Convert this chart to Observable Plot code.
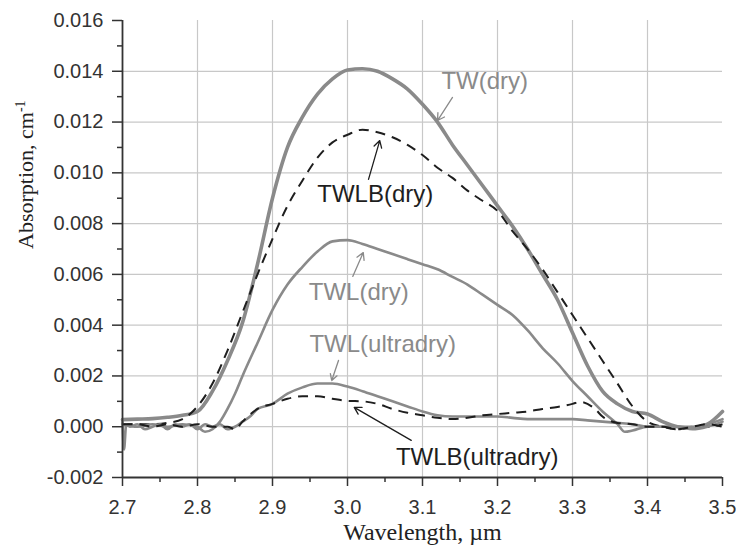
<!DOCTYPE html>
<html><head><meta charset="utf-8">
<script src="https://cdn.jsdelivr.net/npm/d3@7"></script>
<script src="https://cdn.jsdelivr.net/npm/@observablehq/plot@0.6"></script>
<style>body{margin:0;background:#fff}#chart{width:736px;height:550px}</style>
</head><body><div id="chart"></div>
<script>
// ---- data (wavelength in µm, absorption in cm^-1) ----
const twWl  = [2.70,2.72,2.74,2.76,2.78,2.80,2.82,2.84,2.86,2.88,2.90,2.92,2.94,2.96,2.98,3.00,3.02,3.04,3.06,3.08,3.10,3.12,3.14,3.16,3.18,3.20,3.22,3.24,3.26,3.28,3.30,3.32,3.34,3.36,3.38,3.40,3.42,3.44,3.46,3.48,3.50];
const twAbs = [0.00028,0.0003,0.00032,0.00037,0.00045,0.0006,0.0014,0.0026,0.0041,0.0064,0.0090,0.0110,0.0122,0.0131,0.0137,0.01405,0.0141,0.0140,0.0137,0.0133,0.0127,0.0120,0.0111,0.0103,0.0095,0.0087,0.0079,0.0070,0.0060,0.0050,0.0037,0.0024,0.0014,0.0009,0.0006,0.0005,0.0002,0.0,-0.00005,0.0001,0.0006];

const twlbDryWl  = [2.70,2.72,2.74,2.76,2.78,2.80,2.82,2.84,2.86,2.88,2.90,2.92,2.94,2.96,2.98,3.00,3.02,3.04,3.06,3.08,3.10,3.12,3.14,3.16,3.18,3.20,3.22,3.24,3.26,3.28,3.30,3.32,3.34,3.36,3.38,3.40,3.42,3.44,3.46,3.48,3.50];
const twlbDryAbs = [0.0001,0.0001,0.0001,0.00015,0.0003,0.0008,0.0017,0.0030,0.0045,0.0060,0.0074,0.0087,0.0097,0.0106,0.0112,0.0115,0.0117,0.0116,0.0114,0.0111,0.0107,0.0102,0.0098,0.0093,0.0089,0.0085,0.0077,0.0070,0.0062,0.0053,0.0044,0.0035,0.0026,0.0017,0.0008,0.0002,0.0,-0.0001,0.0,0.0,0.0001];

const twlDryWl  = [2.70,2.72,2.74,2.76,2.78,2.80,2.81,2.82,2.83,2.84,2.85,2.86,2.88,2.90,2.92,2.94,2.96,2.98,3.00,3.02,3.04,3.06,3.08,3.10,3.12,3.14,3.16,3.18,3.20,3.22,3.24,3.26,3.28,3.30,3.32,3.34,3.36,3.37,3.38,3.40,3.42,3.44,3.46,3.48,3.50];
const twlDryAbs = [0.0001,0.0,0.0001,0.0,0.0001,0.0,-0.0002,-0.0001,0.0002,0.0007,0.0013,0.0020,0.0033,0.0046,0.0056,0.0063,0.0069,0.0073,0.00735,0.0072,0.0070,0.0068,0.0066,0.0064,0.0062,0.0059,0.0056,0.0052,0.0048,0.0044,0.0038,0.0031,0.0025,0.0018,0.0012,0.0006,0.0001,-0.0002,-0.00015,0.0,0.0,0.0,-0.0001,0.0,0.0002];

const twlUltraWl  = [2.700,2.702,2.705,2.71,2.72,2.73,2.74,2.75,2.76,2.77,2.78,2.79,2.80,2.81,2.82,2.83,2.84,2.85,2.86,2.87,2.88,2.90,2.92,2.94,2.96,2.98,3.00,3.02,3.04,3.06,3.08,3.10,3.12,3.14,3.16,3.18,3.20,3.22,3.24,3.26,3.28,3.30,3.32,3.34,3.36,3.38,3.40,3.42,3.44,3.46,3.48,3.50];
const twlUltraAbs = [0.0002,-0.0009,0.0001,0.0,0.0001,-0.0001,0.0,0.0001,-0.0001,0.0001,0.0,0.0001,-0.0001,0.0001,0.0,0.0001,-0.0001,0.0,0.0002,0.0004,0.0007,0.0009,0.0013,0.00155,0.0017,0.0017,0.00158,0.0014,0.0012,0.0010,0.0008,0.0006,0.00045,0.0004,0.0004,0.0004,0.0004,0.00035,0.0003,0.0003,0.0003,0.0003,0.00025,0.0002,0.00015,0.0001,0.0,0.0,0.0,0.0,0.0001,0.0003];

const twlbUltraWl  = [2.70,2.72,2.74,2.76,2.78,2.80,2.82,2.84,2.85,2.86,2.88,2.90,2.92,2.94,2.96,2.98,3.00,3.02,3.04,3.06,3.08,3.10,3.12,3.14,3.16,3.18,3.20,3.22,3.24,3.26,3.28,3.30,3.31,3.33,3.34,3.36,3.38,3.40,3.42,3.44,3.46,3.48,3.50];
const twlbUltraAbs = [0.0001,0.0001,0.0,0.0001,0.0,0.0001,0.0,0.0,-0.0001,0.0002,0.0007,0.0009,0.0011,0.0012,0.0012,0.0011,0.00102,0.0010,0.0009,0.0007,0.00055,0.00045,0.00035,0.0003,0.00035,0.00045,0.0005,0.00055,0.0006,0.0007,0.00078,0.0009,0.00098,0.0007,0.0004,0.00015,0.0001,0.0,0.0,-0.0001,0.0,0.0001,0.0];

// ---- axes ----
const xMajor = [2.7,2.8,2.9,3.0,3.1,3.2,3.3,3.4,3.5];
const xMinor = [2.75,2.85,2.95,3.05,3.15,3.25,3.35,3.45];
const xTickLabels = ["2.7","2.8","2.9","3.0","3.1","3.2","3.3","3.4","3.5"];
const yMajor = [-0.002,0,0.002,0.004,0.006,0.008,0.010,0.012,0.014,0.016];
const yMinor = [-0.001,0.001,0.003,0.005,0.007,0.009,0.011,0.013,0.015];
const yTickLabels = ["-0.002","0.000","0.002","0.004","0.006","0.008","0.010","0.012","0.014","0.016"];
const xGrid = [2.8,2.9,3.0,3.1,3.2,3.3,3.4];
const yGrid = [0,0.002,0.004,0.006,0.008,0.010,0.012,0.014];
const xTitle = "Wavelength, µm";
const yTitle = "Absorption, cm";
const yTitleSup = "-1";

// ---- annotations ----
const labelText = ["TW(dry)","TWLB(dry)","TWL(dry)","TWL(ultradry)","TWLB(ultradry)"];
const labelWl   = [3.183,3.037,3.015,3.047,3.173];
const labelAbs  = [0.01359,0.00914,0.00528,0.00323,-0.00122];
const arrowWl1  = [3.140,3.028,3.007,2.988,3.085];
const arrowAbs1 = [0.01297,0.00974,0.00592,0.00261,-0.00054];
const arrowWl2  = [3.120,3.043,3.021,2.979,3.009];
const arrowAbs2 = [0.01206,0.01127,0.00686,0.00182,0.00076];

// ---- build tables ----
const seriesDefs = [
  {name:"TW(dry)", wl:twWl, abs:twAbs, stroke:"#8a8a8a", width:3.6, dash:null},
  {name:"TWLB(dry)", wl:twlbDryWl, abs:twlbDryAbs, stroke:"#1e1e1e", width:2, dash:"10,7"},
  {name:"TWL(dry)", wl:twlDryWl, abs:twlDryAbs, stroke:"#8a8a8a", width:2.6, dash:null},
  {name:"TWL(ultradry)", wl:twlUltraWl, abs:twlUltraAbs, stroke:"#8a8a8a", width:2.6, dash:null},
  {name:"TWLB(ultradry)", wl:twlbUltraWl, abs:twlbUltraAbs, stroke:"#1e1e1e", width:2, dash:"10,7"}
];
const labelColors = ["#8a8a8a","#1e1e1e","#8a8a8a","#8a8a8a","#1e1e1e"];
const labelRows = labelText.map((t,i)=>({t, x:labelWl[i], y:labelAbs[i], c:labelColors[i]}));
const arrowRows = labelText.map((t,i)=>({x1:arrowWl1[i], y1:arrowAbs1[i], x2:arrowWl2[i], y2:arrowAbs2[i], c:labelColors[i]}));

const lineMarks = seriesDefs.map(s => Plot.line(s.wl.map((w,i)=>({w, a:s.abs[i]})), {
  x:"w", y:"a", stroke:s.stroke, strokeWidth:s.width, strokeDasharray:s.dash || undefined,
  curve:"monotone-x", strokeLinejoin:"round", strokeLinecap: s.dash ? "butt" : "round"
}));

const chart = Plot.plot({
  width: 736, height: 550,
  marginLeft: 122, marginRight: 14, marginTop: 20, marginBottom: 73,
  x: {domain:[2.7,3.5], label:null},
  y: {domain:[-0.002,0.016], label:null},
  style: {fontFamily:"'Liberation Sans', Arial, sans-serif", fontSize:"20px", color:"#333", background:"#fff", overflow:"visible"},
  marks: [
    Plot.gridX(xGrid, {stroke:"#c8c8c8", strokeOpacity:1, strokeWidth:1.2}),
    Plot.gridY(yGrid, {stroke:"#c8c8c8", strokeOpacity:1, strokeWidth:1.2}),
    ...lineMarks,
    Plot.ruleX([2.7], {stroke:"#333", strokeWidth:1.8}),
    Plot.ruleY([-0.002], {stroke:"#333", strokeWidth:1.8}),
    Plot.axisY(yMajor, {tickSize:10, tickPadding:9, strokeWidth:1.5, label:null, fontSize:20,
      tickFormat: d => yTickLabels[yMajor.indexOf(d)]}),
    Plot.axisY(yMinor, {tickSize:5, tickPadding:0, strokeWidth:1.5, label:null, tickFormat: () => ""}),
    Plot.axisX(xMajor, {tickSize:9, tickPadding:13, strokeWidth:1.5, label:null, fontSize:20,
      tickFormat: d => xTickLabels[xMajor.indexOf(d)]}),
    Plot.axisX(xMinor, {tickSize:5, tickPadding:0, strokeWidth:1.5, label:null, tickFormat: () => ""}),
    Plot.arrow(arrowRows, {x1:"x1", y1:"y1", x2:"x2", y2:"y2", stroke:"c", strokeWidth:1.3, headLength:9}),
    Plot.text(labelRows, {x:"x", y:"y", text:"t", fill:"c", fontSize:24, lineAnchor:"middle",
      fontFamily:"'Liberation Sans', Arial, sans-serif"}),
    Plot.text([xTitle], {text: d => d, frameAnchor:"bottom", lineAnchor:"middle", dy:55,
      fontFamily:"'Liberation Serif', 'Times New Roman', serif", fontSize:24, fill:"#222"}),
    Plot.text([yTitle], {text: d => d, frameAnchor:"left", lineAnchor:"middle", rotate:-90, dx:-97,
      fontFamily:"'Liberation Serif', 'Times New Roman', serif", fontSize:22, fill:"#222"})
  ]
});
document.getElementById("chart").appendChild(chart);
// superscript on the y title
chart.querySelectorAll("text").forEach(t => {
  if (t.textContent === yTitle) {
    const ts = document.createElementNS("http://www.w3.org/2000/svg","tspan");
    ts.setAttribute("dy","-0.55em");
    ts.setAttribute("font-size","14");
    ts.textContent = yTitleSup;
    t.appendChild(ts);
  }
});
</script>
</body></html>
